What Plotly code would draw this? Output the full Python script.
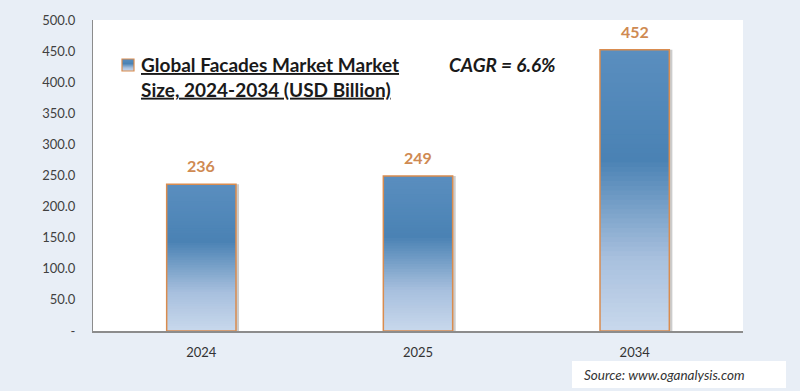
import plotly.graph_objects as go

# ---- data ----
years = ["2024", "2025", "2034"]
values = [236, 249, 452]
value_labels = ["236", "249", "452"]
y_tickvals = [0, 50, 100, 150, 200, 250, 300, 350, 400, 450, 500]
y_ticktext = ["-", "50.0", "100.0", "150.0", "200.0", "250.0", "300.0", "350.0", "400.0", "450.0", "500.0"]
legend_title = "Global Facades Market Market<br>Size, 2024-2034 (USD Billion)"
cagr_text = "CAGR = 6.6%"
source_text = "Source: www.oganalysis.com"

# gradient stops (fraction from top of bar, rgb)
stops = [(0.0, (90, 142, 191)), (0.39, (74, 130, 180)), (0.74, (168, 192, 222)), (1.0, (200, 216, 236))]

def color_at(f):
    for (f0, c0), (f1, c1) in zip(stops[:-1], stops[1:]):
        if f0 <= f <= f1:
            t = (f - f0) / (f1 - f0) if f1 > f0 else 0
            return "rgb(%d,%d,%d)" % tuple(round(a + (b - a) * t) for a, b in zip(c0, c1))
    return "rgb(%d,%d,%d)" % stops[-1][1]

N = 60
BAR_W = 0.32
FONT = "Lato"

fig = go.Figure()

# shadow
fig.add_trace(go.Bar(
    x=years, y=values, width=BAR_W, offset=-BAR_W / 2 + 0.014,
    marker=dict(color="rgba(110,110,110,0.35)", line=dict(width=0)),
    hoverinfo="skip", showlegend=False,
))

# gradient: nested bars from full height (top colour) down to the smallest (bottom colour)
for k in range(N, 0, -1):
    frac_top = k / N
    f_from_top = 1 - (frac_top - 0.5 / N)
    fig.add_trace(go.Bar(
        x=years,
        y=[v * frac_top for v in values],
        width=BAR_W, offset=-BAR_W / 2,
        marker=dict(color=color_at(f_from_top), line=dict(width=0)),
        hoverinfo="skip", showlegend=False,
    ))

# outline
fig.add_trace(go.Bar(
    x=years, y=values, width=BAR_W, offset=-BAR_W / 2,
    marker=dict(color="rgba(0,0,0,0)", line=dict(color="#D98C4F", width=1.5)),
    showlegend=False,
))

# value labels (category index positions)
annotations = [
    dict(x=i, y=v, text="<b>%s</b>" % lab, xref="x", yref="y",
         xanchor="center", yanchor="bottom", yshift=7, showarrow=False,
         font=dict(family=FONT, size=16, color="#CF8A52"))
    for i, (v, lab) in enumerate(zip(values, value_labels))
]
annotations += [
    dict(text="<b><u>" + legend_title.replace("<br>", "</u></b><br><b><u>") + "</u></b>",
         xref="paper", yref="paper", x=(139 - 93) / 650, y=1 - (51 - 20) / 311,
         xanchor="left", yanchor="top", align="left", showarrow=False,
         font=dict(family=FONT, size=19, color="#1A1A1A")),
    dict(text="<b><i>" + cagr_text + "</i></b>",
         xref="paper", yref="paper", x=(447 - 93) / 650, y=1 - (64 - 20) / 311,
         xanchor="left", yanchor="middle", showarrow=False,
         font=dict(family=FONT, size=19, color="#1A1A1A")),
    dict(text="<i>" + source_text + "</i>",
         xref="paper", yref="paper", x=(664 - 93) / 650, y=-(375 - 331) / 311,
         xanchor="center", yanchor="middle", showarrow=False,
         font=dict(family=FONT, size=13.5, color="#333333")),
]

# legend swatch gradient (small shapes)
sw_x0, sw_x1 = (122 - 93) / 650, (134 - 93) / 650
sw_top, sw_bot = 59, 71
shapes = []
M = 12
for j in range(M):
    ya = sw_top + (sw_bot - sw_top) * j / M
    yb = sw_top + (sw_bot - sw_top) * (j + 1) / M
    shapes.append(dict(type="rect", xref="paper", yref="paper", x0=sw_x0, x1=sw_x1,
                       y0=1 - (yb - 20) / 311, y1=1 - (ya - 20) / 311,
                       fillcolor=color_at((j + 0.5) / M), line=dict(width=0)))
shapes.append(dict(type="rect", xref="paper", yref="paper", x0=sw_x0, x1=sw_x1,
                   y0=1 - (sw_bot - 20) / 311, y1=1 - (sw_top - 20) / 311,
                   fillcolor="rgba(0,0,0,0)", line=dict(color="#D98C4F", width=1.2)))
shapes.append(dict(type="rect", xref="paper", yref="paper",
                   x0=(572 - 93) / 650, x1=(786 - 93) / 650,
                   y0=-(388 - 331) / 311, y1=-(361 - 331) / 311,
                   fillcolor="#FFFFFF", line=dict(width=0), layer="below"))

fig.update_layout(
    width=800, height=391,
    barmode="overlay",
    paper_bgcolor="#E8EEF6",
    plot_bgcolor="#FFFFFF",
    margin=dict(l=93, r=57, t=20, b=60),
    font=dict(family=FONT, color="#404040"),
    showlegend=False,
    xaxis=dict(
        type="category", categoryorder="array", categoryarray=years,
        range=[-0.5, len(years) - 0.5],
        showgrid=False, showline=True, linecolor="#8C8C8C", linewidth=1.5,
        ticks="", tickfont=dict(family=FONT, size=13, color="#333333"),
        ticklabelstandoff=9,
    ),
    yaxis=dict(
        range=[0, 500], showgrid=False, showline=True, linecolor="#8C8C8C", linewidth=1,
        tickvals=y_tickvals, ticktext=y_ticktext, ticks="",
        tickfont=dict(family=FONT, size=13, color="#404040"),
        ticklabelstandoff=14, zeroline=False,
    ),
    annotations=annotations,
    shapes=shapes,
)

fig.write_html("out.html", config={"displayModeBar": False},
               post_script="document.body.style.margin='0';document.body.style.overflow='hidden';")
